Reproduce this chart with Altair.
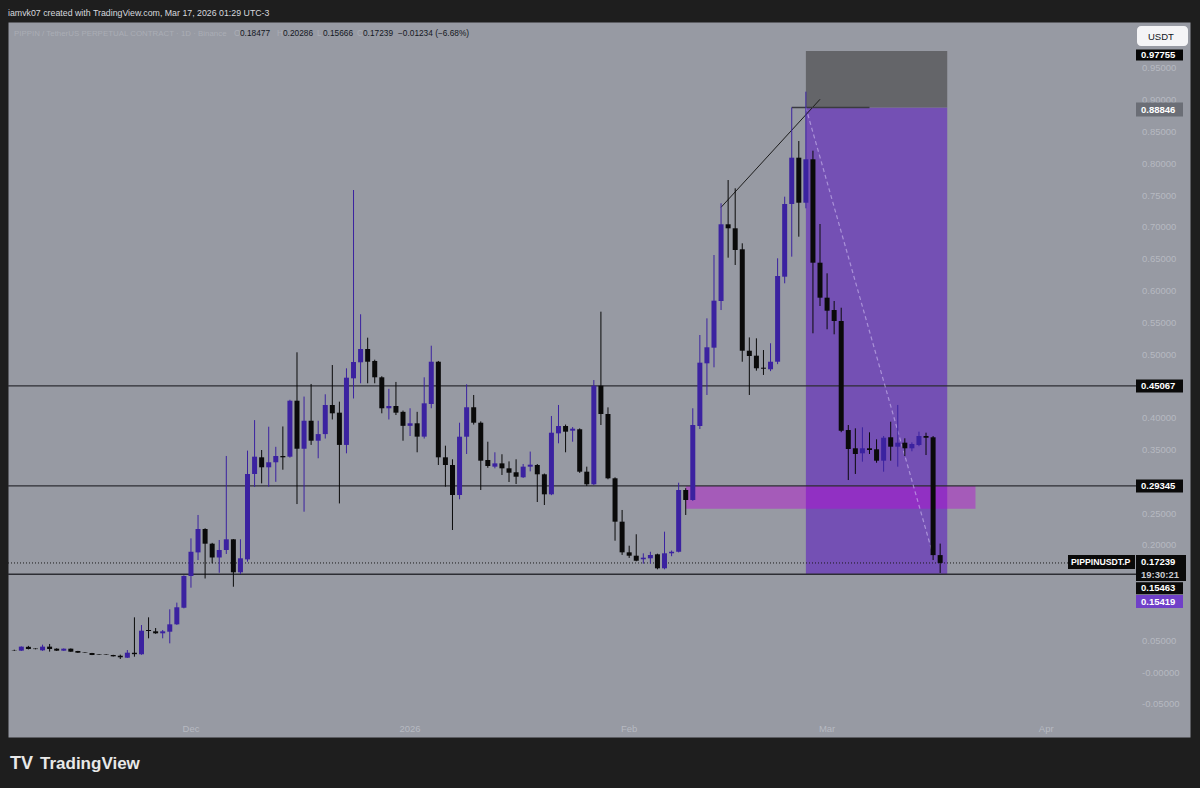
import altair as alt
import pandas as pd

# ---------------------------------------------------------------- data
DATES = pd.date_range("2025-11-06", "2026-03-17", freq="D").strftime("%Y-%m-%d").tolist()

OPEN = [
    # Nov 6 - Nov 30
    0.0350, 0.0345, 0.0405, 0.0378, 0.0350, 0.0408, 0.0376, 0.0345, 0.0376, 0.0340,
    0.0320, 0.0308, 0.0290, 0.0287, 0.0277, 0.0265, 0.0234, 0.0312, 0.0288, 0.0670,
    0.0649, 0.0618, 0.0643, 0.0759, 0.1020,
    # Dec
    0.1519, 0.1890, 0.2258, 0.2027, 0.1810, 0.1928, 0.2096, 0.1577, 0.1780, 0.3123,
    0.3385, 0.3228, 0.3307, 0.3406, 0.3395, 0.4275, 0.3520, 0.3960, 0.3646, 0.3750,
    0.4208, 0.4087, 0.3580, 0.4627, 0.4879, 0.5088, 0.4900, 0.4643, 0.4156, 0.4192,
    0.4100,
    # Jan
    0.3880, 0.3920, 0.3710, 0.4223, 0.4888, 0.3385, 0.3264, 0.2792, 0.3709, 0.4172,
    0.3929, 0.3343, 0.3238, 0.3290, 0.3212, 0.3150, 0.3071, 0.3238, 0.3264, 0.3118,
    0.2803, 0.3762, 0.3877, 0.3804, 0.3826, 0.3159, 0.2961, 0.4511, 0.4066, 0.3055,
    0.2373,
    # Feb
    0.1891, 0.1838, 0.1782, 0.1797, 0.1860, 0.1640, 0.1876, 0.1900, 0.2871, 0.2714,
    0.3877, 0.4863, 0.5109, 0.5843, 0.7049, 0.6986, 0.6656, 0.5061, 0.4983, 0.4794,
    0.4769, 0.4888, 0.6225, 0.7368, 0.8096, 0.7388, 0.8071, 0.6445,
    # Mar 1 - Mar 17
    0.5895, 0.5701, 0.5528, 0.3814, 0.3527, 0.3448, 0.3527, 0.3511, 0.3332, 0.3700,
    0.3552, 0.3615, 0.3527, 0.3579, 0.3720, 0.3700, 0.18477,
]
HIGH = [
    0.0360, 0.0412, 0.0420, 0.0382, 0.0439, 0.0450, 0.0382, 0.0380, 0.0380, 0.0342,
    0.0322, 0.0310, 0.0292, 0.0290, 0.0280, 0.0282, 0.0355, 0.0869, 0.0748, 0.0869,
    0.0701, 0.0670, 0.0995, 0.1100, 0.1530,
    0.2110, 0.2478, 0.2270, 0.2040, 0.2085, 0.3406, 0.2100, 0.2096, 0.3490, 0.3970,
    0.3500, 0.3866, 0.3550, 0.3870, 0.4290, 0.5036, 0.4340, 0.4538, 0.3960, 0.4376,
    0.4836, 0.4260, 0.4784, 0.7588, 0.5634, 0.5266, 0.4920, 0.4660, 0.4462, 0.4570,
    0.4120,
    0.4156, 0.4100, 0.4643, 0.5140, 0.4900, 0.3568, 0.3354, 0.3929, 0.4533, 0.4365,
    0.3950, 0.3630, 0.3464, 0.3433, 0.3321, 0.3354, 0.3280, 0.3475, 0.3280, 0.3130,
    0.4035, 0.4208, 0.3900, 0.3860, 0.3840, 0.3238, 0.4600, 0.5675, 0.4170, 0.3070,
    0.2557,
    0.1995, 0.2175, 0.1875, 0.1900, 0.1870, 0.2216, 0.1920, 0.2986, 0.2900, 0.4156,
    0.5308, 0.5570, 0.6566, 0.7379, 0.7745, 0.7615, 0.6750, 0.5270, 0.5256, 0.5072,
    0.5178, 0.6514, 0.7483, 0.8885, 0.8358, 0.9134, 0.8206, 0.7053,
    0.6278, 0.5843, 0.5737, 0.3893, 0.3841, 0.3857, 0.3778, 0.3668, 0.3720, 0.3945,
    0.4208, 0.3684, 0.3620, 0.3788, 0.3772, 0.3720, 0.20286,
]
LOW = [
    0.0340, 0.0340, 0.0365, 0.0366, 0.0342, 0.0330, 0.0340, 0.0342, 0.0326, 0.0308,
    0.0310, 0.0275, 0.0280, 0.0278, 0.0253, 0.0214, 0.0230, 0.0250, 0.0280, 0.0539,
    0.0610, 0.0539, 0.0460, 0.0750, 0.1010,
    0.1335, 0.1770, 0.1480, 0.1718, 0.1570, 0.1865, 0.1350, 0.1550, 0.1744, 0.2920,
    0.2975, 0.2923, 0.3000, 0.3190, 0.3380, 0.2650, 0.2530, 0.3580, 0.3370, 0.3680,
    0.3980, 0.2660, 0.3448, 0.4310, 0.4549, 0.4549, 0.4549, 0.4077, 0.3980, 0.4050,
    0.3646,
    0.3720, 0.3464, 0.3680, 0.4156, 0.3264, 0.2923, 0.2242, 0.2725, 0.3437, 0.3900,
    0.2871, 0.3220, 0.3212, 0.3107, 0.2997, 0.2965, 0.3060, 0.3164, 0.2682, 0.2635,
    0.2790, 0.3605, 0.3464, 0.3630, 0.3140, 0.2934, 0.2950, 0.3893, 0.3040, 0.2074,
    0.1850,
    0.1803, 0.1750, 0.1713, 0.1713, 0.1624, 0.1624, 0.1830, 0.1890, 0.2478, 0.2700,
    0.3830, 0.4365, 0.4800, 0.5701, 0.6524, 0.6409, 0.4888, 0.4365, 0.4747, 0.4680,
    0.4740, 0.4850, 0.6121, 0.6540, 0.6854, 0.7300, 0.5335, 0.5764,
    0.5398, 0.5319, 0.3780, 0.3028, 0.3123, 0.3316, 0.3437, 0.3300, 0.3159, 0.3332,
    0.3238, 0.3406, 0.3480, 0.3560, 0.3421, 0.1770, 0.15666,
]
CLOSE = [
    0.0345, 0.0408, 0.0371, 0.0370, 0.0408, 0.0371, 0.0345, 0.0376, 0.0329, 0.0313,
    0.0313, 0.0277, 0.0282, 0.0280, 0.0256, 0.0241, 0.0313, 0.0290, 0.0659, 0.0654,
    0.0618, 0.0649, 0.0759, 0.1027, 0.1519,
    0.1900, 0.2258, 0.2027, 0.1810, 0.1928, 0.2096, 0.1577, 0.1797, 0.3123, 0.3395,
    0.3228, 0.3307, 0.3406, 0.3385, 0.4275, 0.3520, 0.3960, 0.3646, 0.3750, 0.4208,
    0.4077, 0.3580, 0.4637, 0.4884, 0.5088, 0.4888, 0.4643, 0.4156, 0.4192, 0.4087,
    0.3880,
    0.3920, 0.3710, 0.4234, 0.4888, 0.3385, 0.3264, 0.2792, 0.3709, 0.4172, 0.3929,
    0.3332, 0.3248, 0.3290, 0.3212, 0.3143, 0.3080, 0.3238, 0.3269, 0.3118, 0.2803,
    0.3772, 0.3877, 0.3788, 0.3835, 0.3159, 0.2961, 0.4511, 0.4066, 0.3055, 0.2373,
    0.1891,
    0.1838, 0.1759, 0.1807, 0.1849, 0.1640, 0.1876, 0.1900, 0.2871, 0.2714, 0.3893,
    0.4873, 0.5115, 0.5848, 0.7049, 0.6986, 0.6645, 0.5061, 0.4978, 0.4785, 0.4778,
    0.4888, 0.6236, 0.7368, 0.8096, 0.7388, 0.8071, 0.6445, 0.5895,
    0.5690, 0.5528, 0.3803, 0.3516, 0.3437, 0.3527, 0.3500, 0.3332, 0.3693, 0.3552,
    0.3615, 0.3527, 0.3594, 0.3720, 0.3693, 0.18473, 0.17239,
]

# horizontal levels drawn across the pane
LEVELS = [0.45067, 0.29345, 0.15463]
LAST_PRICE = 0.17239

# short position tool: entry, stop, target
POS_START, POS_END = "2026-02-26", "2026-03-18"
ENTRY, STOP, TARGET = 0.88846, 0.97755, 0.15419

# imbalance zone
ZONE_START, ZONE_END = "2026-02-09", "2026-03-22"
ZONE_LOW, ZONE_HIGH = 0.2575, 0.29345

# trend line, ray from the high, and the position's price path
TREND = {"d1": "2026-02-14", "p1": 0.7316, "d2": "2026-02-28", "p2": 0.9014}
RAY = {"d1": "2026-02-24", "d2": "2026-03-07", "p": 0.88846}
PATH = {"d1": "2026-02-26", "p1": 0.88846, "d2": "2026-03-16", "p2": 0.18473}

Y_TICKS = [0.95, 0.90, 0.85, 0.80, 0.75, 0.70, 0.65, 0.60, 0.55, 0.50, 0.45,
           0.40, 0.35, 0.30, 0.25, 0.20, 0.15, 0.10, 0.05, 0.0, -0.05]
Y_TICK_LABELS = ["0.95000", "0.90000", "0.85000", "0.80000", "0.75000", "0.70000",
                 "0.65000", "0.60000", "0.55000", "0.50000", "0.45000", "0.40000",
                 "0.35000", "0.30000", "0.25000", "0.20000", "0.15000", "0.10000",
                 "0.05000", "-0.00000", "-0.05000"]
# scale labels that sit under the price badges
COVERED_TICKS = {0.45, 0.30, 0.15, 0.10}

X_TICKS = ["2025-12-01", "2026-01-01", "2026-02-01", "2026-03-01", "2026-04-01"]
X_TICK_LABELS = ["Dec", "2026", "Feb", "Mar", "Apr"]

HEADER = "iamvk07 created with TradingView.com, Mar 17, 2026 01:29 UTC-3"
SYMBOL_TITLE = "PIPPIN / TetherUS PERPETUAL CONTRACT · 1D · Binance"
OHLC_LETTERS = ["O", "H", "L", "C"]
OHLC_VALUES = ["0.18477", "0.20286", "0.15666", "0.17239"]
CHANGE = "−0.01234 (−6.68%)"

# ---------------------------------------------------------------- style
BG = "#1e1e1e"
PANE = "#979aa3"
GRID = "#9da0a9"
FAINT = "#b6b9c1"
UP = "#3b22a0"
DOWN = "#0a0a0a"
LINE = "#2c2d33"
FONT = "Liberation Sans"

W, H = 1182, 715

x_scale = alt.Scale(
    type="utc",
    domain=[alt.DateTime(year=2025, month=11, date=5, hours=19, minutes=41, utc=True),
            alt.DateTime(year=2026, month=4, date=20, hours=15, minutes=22, utc=True)],
)
y_scale = alt.Scale(domain=[-0.10126, 1.02296], zero=False, nice=False)


def X(field):
    return alt.X(f"{field}:T", scale=x_scale, axis=None)


def X2(field):
    return alt.X2(f"{field}")


def Y(field, grid=False):
    if grid:
        return alt.Y(f"{field}:Q", scale=y_scale,
                     axis=alt.Axis(values=Y_TICKS, grid=True, gridColor=GRID,
                                   gridWidth=1, labels=False, ticks=False,
                                   domain=False, title=None))
    return alt.Y(f"{field}:Q", scale=y_scale, axis=None)


candles = pd.DataFrame({"date": DATES, "open": OPEN, "high": HIGH,
                        "low": LOW, "close": CLOSE})
candle_color = (alt.when(alt.datum.close >= alt.datum.open)
                .then(alt.value(UP)).otherwise(alt.value(DOWN)))

base = alt.Chart(candles)

grid = base.mark_rule(opacity=0).encode(x=X("date"), y=Y("close", grid=True))

pos = pd.DataFrame({"d1": [POS_START, POS_START], "d2": [POS_END, POS_END],
                    "lo": [TARGET, ENTRY], "hi": [ENTRY, STOP],
                    "kind": ["target", "stop"]})
pos_rect = alt.Chart(pos).mark_rect().encode(
    x=X("d1"), x2=X2("d2"), y=Y("lo"), y2=alt.Y2("hi"),
    color=alt.Color("kind:N", legend=None,
                    scale=alt.Scale(domain=["target", "stop"],
                                    range=["#7450b4", "#646569"])),
)

zone = alt.Chart(pd.DataFrame({"d1": [ZONE_START], "d2": [ZONE_END],
                               "lo": [ZONE_LOW], "hi": [ZONE_HIGH]})).mark_rect(
    color="#b905d8", opacity=0.42).encode(
    x=X("d1"), x2=X2("d2"), y=Y("lo"), y2=alt.Y2("hi"))

levels = alt.Chart(pd.DataFrame({"p": LEVELS})).mark_rule(
    color=LINE, strokeWidth=1.3).encode(
    y=Y("p"), x=alt.value(0), x2=alt.value(1128))

last_line = alt.Chart(pd.DataFrame({"p": [LAST_PRICE]})).mark_rule(
    color="#1a1a1a", strokeWidth=1, strokeDash=[1, 2]).encode(
    y=Y("p"), x=alt.value(0), x2=alt.value(1061))

trend = alt.Chart(pd.DataFrame([TREND])).mark_rule(
    color="#1c1c1c", strokeWidth=1).encode(
    x=X("d1"), x2=X2("d2"), y=Y("p1"), y2=alt.Y2("p2"))

ray = alt.Chart(pd.DataFrame([RAY])).mark_rule(
    color="#3a3b40", strokeWidth=1.5).encode(
    x=X("d1"), x2=X2("d2"), y=Y("p"))

path = alt.Chart(pd.DataFrame([PATH])).mark_rule(
    color="#cdbdf0", strokeWidth=1.2, strokeDash=[4, 3], opacity=0.6).encode(
    x=X("d1"), x2=X2("d2"), y=Y("p1"), y2=alt.Y2("p2"))

wicks = base.mark_rule(strokeWidth=1).encode(
    x=X("date"), y=Y("low"), y2=alt.Y2("high"), color=candle_color)

bodies = base.mark_bar(size=5).encode(
    x=X("date"), y=Y("open"), y2=alt.Y2("close"), color=candle_color)

# price scale labels
ticks_df = pd.DataFrame({"v": Y_TICKS, "label": Y_TICK_LABELS})
ticks_df = ticks_df[~ticks_df["v"].round(2).isin(COVERED_TICKS)]
y_labels = alt.Chart(ticks_df).mark_text(
    align="left", baseline="middle", fontSize=9.5, font=FONT, color=FAINT).encode(
    y=Y("v"), x=alt.value(1134), text="label:N")

# time scale labels
x_labels = alt.Chart(pd.DataFrame({"d": X_TICKS, "label": X_TICK_LABELS})).mark_text(
    align="center", baseline="middle", fontSize=9.5, font=FONT, color=FAINT).encode(
    x=X("d"), y=alt.value(707), text="label:N")


def badge(price, text, fill, dy=0, height=13, x0=1128, x1=1175, tx=1133,
          text_color="#ffffff", bg=True, size=9.5):
    d = alt.Chart(pd.DataFrame({"p": [price], "t": [text]}))
    out = []
    if bg:
        out.append(d.mark_rule(color=fill, strokeWidth=height, yOffset=dy,
                               y2Offset=dy).encode(
            y=Y("p"), x=alt.value(x0), x2=alt.value(x1)))
    if text:
        out.append(d.mark_text(align="left", baseline="middle", fontSize=size,
                               fontWeight="bold", font=FONT, color=text_color,
                               yOffset=dy).encode(
            y=Y("p"), x=alt.value(tx), text="t:N"))
    return out


badges = []
badges += badge(STOP, "0.97755", "#050505", dy=4, height=11)
badges += badge(ENTRY, "0.88846", "#6b6e76", dy=2, height=14)
badges += badge(LEVELS[0], "0.45067", "#0a0a0a")
badges += badge(LEVELS[1], "0.29345", "#0a0a0a")
badges += badge(LAST_PRICE, "", "#0a0a0a", dy=5, height=26, x1=1178)
badges += badge(LAST_PRICE, "0.17239", "#0a0a0a", dy=-1, bg=False)
badges += badge(LAST_PRICE, "19:30:21", "#0a0a0a", dy=12, bg=False,
                text_color="#c9cbd1")
badges += badge(LAST_PRICE, "PIPPINUSDT.P", "#0a0a0a", dy=-1, height=14,
                x0=1060, x1=1127, tx=1063, size=8.7)
badges += badge(LEVELS[2], "0.15463", "#0a0a0a", dy=14, height=12)
badges += badge(TARGET, "0.15419", "#7040c8", dy=27, height=13)


def label(text, x, y, size=9.5, color="#131722", weight="normal", align="left"):
    return alt.Chart(pd.DataFrame({"t": [text]})).mark_text(
        align=align, baseline="middle", fontSize=size, font=FONT, color=color,
        fontWeight=weight).encode(x=alt.value(x), y=alt.value(y), text="t:N")


texts = [
    label(HEADER, 0, -9, size=8.8, color="#d7d9de"),
    label(SYMBOL_TITLE, 6, 12, size=7.9, color="#aaadb5"),
]
ohlc_x = [232, 275, 315, 355]
for letter, val, xv in zip(OHLC_LETTERS, OHLC_VALUES, ohlc_x):
    texts.append(label(letter, xv - 6, 12, size=8.3, color="#aaadb5"))
    texts.append(label(val, xv, 12, size=8.3))
texts.append(label(CHANGE, 390, 12, size=8.3))

# currency box at the top of the price scale
usdt_box = alt.Chart(pd.DataFrame({"t": ["USDT"]})).mark_rect(
    color="#f4f4f6", cornerRadius=4).encode(
    x=alt.value(1129), x2=alt.value(1180), y=alt.value(4), y2=alt.value(24))
texts.append(usdt_box)
texts.append(label("USDT", 1140, 14.5, size=9.5, color="#131722"))

# footer brand
texts.append(label("TV", 2, 742, size=18, color="#e8e8e8", weight="bold"))
texts.append(label("TradingView", 32, 742, size=17, color="#e8e8e8", weight="bold"))

chart = alt.layer(
    grid, pos_rect, zone, levels, last_line, trend, ray, path,
    wicks, bodies, y_labels, x_labels, *badges, *texts,
).properties(
    width=W, height=H,
    padding={"left": 8, "top": 22, "right": 10, "bottom": 51},
    autosize="none", background=BG,
).configure_view(fill=PANE, stroke="transparent")

chart.save("out.html", embed_options={"renderer": "svg", "actions": False})
